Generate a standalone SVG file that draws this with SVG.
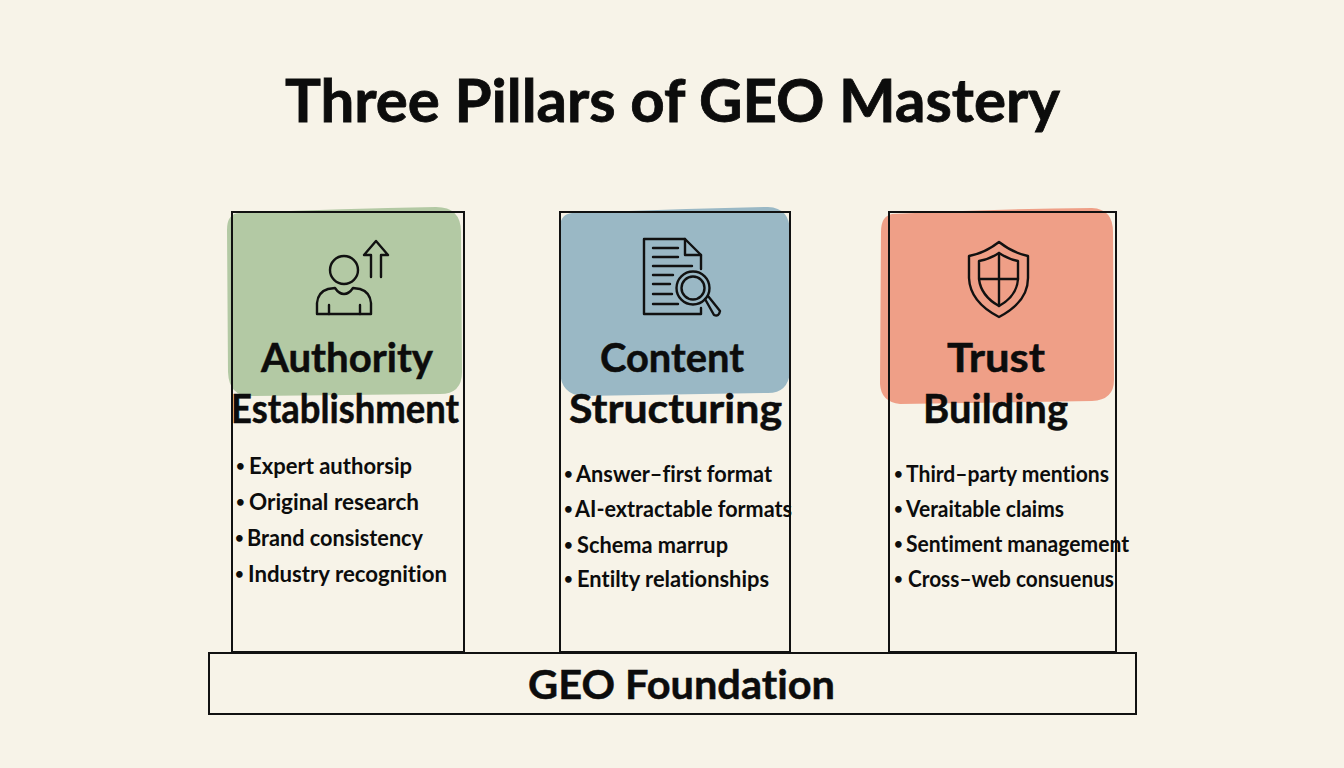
<svg xmlns="http://www.w3.org/2000/svg" width="1344" height="768" viewBox="0 0 1344 768">
<style>
text{font-family:"Lato","Noto Sans",sans-serif;fill:#0c0c0c;font-variant-ligatures:none}
.title{font-size:60px;font-weight:700;stroke:#0c0c0c;stroke-width:.8px}
.head{font-size:41px;font-weight:700;stroke:#0c0c0c;stroke-width:.5px}
.item{font-size:23px;font-weight:700}
.bul{font-size:15px;font-weight:700}
.box{fill:none;stroke:#111;stroke-width:2}
.ic{fill:none;stroke:#111;stroke-width:2.4;stroke-linecap:round;stroke-linejoin:round}
</style>
<rect width="1344" height="768" fill="#f7f3e8"/>
<text class="title" x="285" y="122" textLength="775" lengthAdjust="spacingAndGlyphs">Three Pillars of GEO Mastery</text>

<g id="pillar-authority">
<path d="M240 213Q330 209 436 207Q461 207 461 232L462 372Q462 394 440 394L250 396Q229 396 228 372L227 230Q227 213 240 213Z" fill="#b3c9a4"/>
<rect class="box" x="232" y="212" width="232" height="440"/>
<g class="ic">
<circle cx="344" cy="270" r="14"/>
<path d="M317 314V303Q318 292 328 289L335 288Q339 294 344 294Q349 294 353 288L360 289Q370 292 371 303V314Z"/>
<path d="M329 305V314M360 305V314"/>
<path d="M371 277V255H364L376 241L388 255H381V277"/>
</g>
<text class="head" x="261" y="372" textLength="172" lengthAdjust="spacingAndGlyphs">Authority</text>
<text class="head" x="231" y="423" textLength="228" lengthAdjust="spacingAndGlyphs">Establishment</text>
<text class="bul" x="236" y="471">•</text><text class="item" x="249" y="474" textLength="163" lengthAdjust="spacingAndGlyphs">Expert authorsip</text>
<text class="bul" x="236" y="507">•</text><text class="item" x="249" y="510" textLength="170" lengthAdjust="spacingAndGlyphs">Original research</text>
<text class="bul" x="235" y="543">•</text><text class="item" x="247" y="546" textLength="176" lengthAdjust="spacingAndGlyphs">Brand consistency</text>
<text class="bul" x="235" y="579">•</text><text class="item" x="248" y="582" textLength="199" lengthAdjust="spacingAndGlyphs">Industry recognition</text>
</g>

<g id="pillar-content">
<path d="M572 213Q670 209 768 207Q790 208 790 232L790 372Q788 393 768 393L582 396Q561 394 560 372L560 226Q561 214 572 213Z" fill="#9ab8c5"/>
<rect class="box" x="560" y="212" width="230" height="440"/>
<g class="ic">
<path d="M701 269V255L685 239H644V314H701V308"/>
<path d="M685 239V255H701"/>
<path d="M653 248H678M653 257H678M653 266H692M653 275H673M653 284H670M653 294H672M653 304H678"/>
<circle cx="693" cy="288" r="16.5"/>
<circle cx="693" cy="288" r="11.5"/>
<path d="M705 299L714 315Q719 317 720 311L708 296"/>
</g>
<text class="head" x="600" y="372" textLength="144" lengthAdjust="spacingAndGlyphs">Content</text>
<text class="head" x="569" y="423" textLength="213" lengthAdjust="spacingAndGlyphs">Structuring</text>
<text class="bul" x="564" y="479">•</text><text class="item" x="576" y="482" textLength="196" lengthAdjust="spacingAndGlyphs">Answer–first format</text>
<text class="bul" x="564" y="514">•</text><text class="item" x="575" y="517" textLength="217" lengthAdjust="spacingAndGlyphs">AI-extractable formats</text>
<text class="bul" x="564" y="550">•</text><text class="item" x="577" y="553" textLength="151" lengthAdjust="spacingAndGlyphs">Schema marrup</text>
<text class="bul" x="564" y="584">•</text><text class="item" x="577" y="587" textLength="192" lengthAdjust="spacingAndGlyphs">Entilty relationships</text>
</g>

<g id="pillar-trust">
<path d="M892 214Q990 209 1092 208Q1113 209 1113 232L1114 380Q1114 400 1092 401L900 404Q881 402 880 384L881 232Q881 216 892 214Z" fill="#ef9f87"/>
<rect class="box" x="889" y="212" width="227" height="440"/>
<g class="ic">
<path d="M999 242Q985 253 969 256V278Q970 302 999 317Q1028 302 1028 278V256Q1013 253 999 242Z"/>
<path d="M999 253Q990 259 979 261V279Q981 296 999 306Q1017 296 1018 279V261Q1008 259 999 253Z"/>
<path d="M999 253V306M980 279H1018"/>
</g>
<text class="head" x="947" y="372" textLength="98" lengthAdjust="spacingAndGlyphs">Trust</text>
<text class="head" x="923" y="423" textLength="145" lengthAdjust="spacingAndGlyphs">Building</text>
<text class="bul" x="894" y="479">•</text><text class="item" x="906" y="482" textLength="203" lengthAdjust="spacingAndGlyphs">Third–party mentions</text>
<text class="bul" x="894" y="514">•</text><text class="item" x="906" y="517" textLength="158" lengthAdjust="spacingAndGlyphs">Veraitable claims</text>
<text class="bul" x="894" y="549">•</text><text class="item" x="906" y="552" textLength="223" lengthAdjust="spacingAndGlyphs">Sentiment management</text>
<text class="bul" x="894" y="584">•</text><text class="item" x="908" y="587" textLength="206" lengthAdjust="spacingAndGlyphs">Cross–web consuenus</text>
</g>

<g id="foundation">
<rect class="box" x="209" y="653" width="927" height="61"/>
<text class="head" x="528" y="699" textLength="307" lengthAdjust="spacingAndGlyphs">GEO Foundation</text>
</g>
</svg>
